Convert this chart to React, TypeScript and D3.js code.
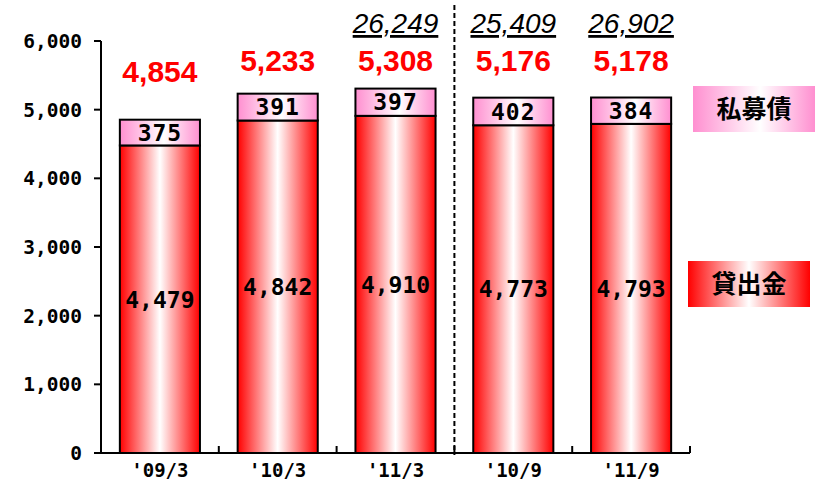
import React from "react";
import * as d3 from "d3";

const categories = ["'09/3", "'10/3", "'11/3", "'10/9", "'11/9"];
const loans = [4479, 4842, 4910, 4773, 4793];
const bonds = [375, 391, 397, 402, 384];
const totals = [4854, 5233, 5308, 5176, 5178];
const groupTotals: (number | null)[] = [null, null, 26249, 25409, 26902];
const yTicks = [0, 1000, 2000, 3000, 4000, 5000, 6000];
const legendLabels = ["私募債", "貸出金"];

const W = 821;
const H = 497;
const left = 101;
const right = 690;
const top = 41;
const bottom = 453;

export default function App() {
  const x = d3.scaleBand<string>().domain(categories).range([left, right]).paddingInner(0.32).paddingOuter(0.16);
  const y = d3.scaleLinear().domain([0, 6000]).range([bottom, top]);
  const step = x.step();
  const bw = x.bandwidth();
  const fmt = d3.format(",");
  const mono = "'DejaVu Sans Mono', monospace";
  const sans = "'Liberation Sans', Arial, sans-serif";
  const splitX = left + step * 3;

  return (
    <svg width={W} height={H} style={{ display: "block", position: "absolute", left: 0, top: 0 }}>
      <defs>
        <linearGradient id="redG" x1="0" x2="1" y1="0" y2="0">
          <stop offset="0" stopColor="#ff0000" />
          <stop offset="0.5" stopColor="#ffffff" />
          <stop offset="1" stopColor="#ff0000" />
        </linearGradient>
        <linearGradient id="pinkG" x1="0" x2="1" y1="0" y2="0">
          <stop offset="0" stopColor="#ff8fd0" />
          <stop offset="0.55" stopColor="#ffffff" />
          <stop offset="1" stopColor="#ff8fd0" />
        </linearGradient>
      </defs>
      <rect width={W} height={H} fill="#fff" />

      {/* bars */}
      {categories.map((c, i) => {
        const x0 = x(c)!;
        const yL = y(loans[i]);
        const yB = y(loans[i] + bonds[i]);
        return (
          <g key={c}>
            <rect x={x0} y={yL} width={bw} height={bottom - yL} fill="url(#redG)" stroke="#000" strokeWidth={2} />
            <rect x={x0} y={yB} width={bw} height={yL - yB} fill="url(#pinkG)" stroke="#000" strokeWidth={2} />
            <text x={x0 + bw / 2} y={(yL + bottom) / 2} dy="0.36em" textAnchor="middle" fontFamily={mono} fontWeight="bold" fontSize={23} fill="#000">
              {fmt(loans[i])}
            </text>
            <text x={x0 + bw / 2} y={(yL + yB) / 2} dy="0.36em" textAnchor="middle" fontFamily={mono} fontWeight="bold" fontSize={23} letterSpacing={1} fill="#000">
              {fmt(bonds[i])}
            </text>
            <text x={x0 + bw / 2} y={Math.max(y(totals[i]) - 38, 71)} textAnchor="middle" fontFamily={sans} fontWeight="bold" fontSize={30} fill="#ff0000">
              {fmt(totals[i])}
            </text>
            {groupTotals[i] !== null && (
              <text x={x0 + bw / 2} y={33} textAnchor="middle" fontFamily={sans} fontStyle="italic" fontSize={28} fill="#000" textDecoration="underline">
                {fmt(groupTotals[i] as number)}
              </text>
            )}
            <text x={x0 + bw / 2} y={470} dy="0.36em" textAnchor="middle" fontFamily={mono} fontWeight="bold" fontSize={19} fill="#000">
              {c}
            </text>
          </g>
        );
      })}

      {/* y axis */}
      <line x1={left} x2={left} y1={top} y2={bottom} stroke="#000" strokeWidth={2} />
      {yTicks.map((t) => (
        <g key={t}>
          <line x1={left - 7} x2={left} y1={y(t)} y2={y(t)} stroke="#000" strokeWidth={2} />
          <text x={left - 19} y={y(t)} dy="0.36em" textAnchor="end" fontFamily={mono} fontWeight="bold" fontSize={19.5} fill="#000">
            {fmt(t)}
          </text>
        </g>
      ))}

      {/* x axis */}
      <line x1={left} x2={right} y1={bottom} y2={bottom} stroke="#000" strokeWidth={2} />
      {categories.map((c, i) => (
        <line key={c} x1={left + step * (i + 1)} x2={left + step * (i + 1)} y1={bottom} y2={bottom - 7} stroke="#000" strokeWidth={2} />
      ))}

      {/* divider */}
      <line x1={splitX} x2={splitX} y1={5} y2={bottom + 2} stroke="#000" strokeWidth={2} strokeDasharray="5,3" />

      {/* legend */}
      <rect x={693} y={86} width={122} height={46} fill="url(#pinkG)" />
      <text x={754} y={109} dy="0.36em" textAnchor="middle" fontFamily="'Noto Sans CJK JP', sans-serif" fontWeight="bold" fontSize={25} fill="#000">
        {legendLabels[0]}
      </text>
      <rect x={688} y={261} width={122} height={46} fill="url(#redG)" />
      <text x={749} y={284} dy="0.36em" textAnchor="middle" fontFamily="'Noto Sans CJK JP', sans-serif" fontWeight="bold" fontSize={25} fill="#000">
        {legendLabels[1]}
      </text>
    </svg>
  );
}
